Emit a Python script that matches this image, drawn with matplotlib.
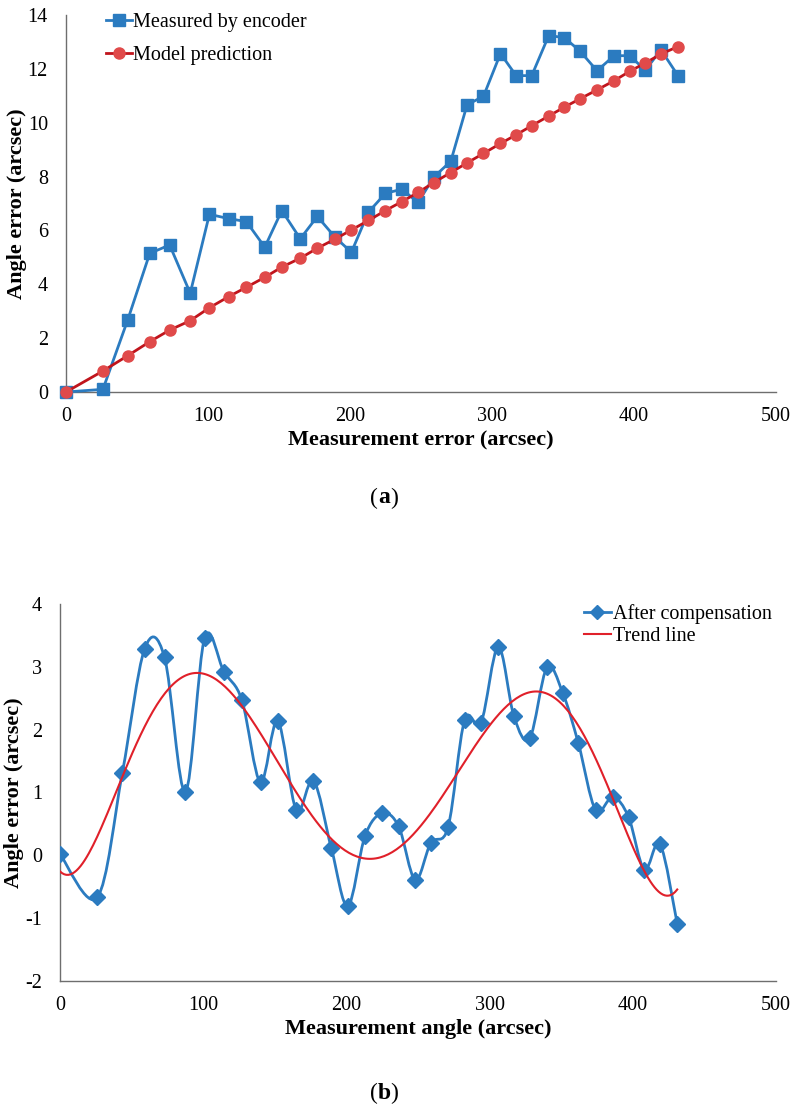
import numpy as np
import matplotlib
matplotlib.use("Agg")
import matplotlib.pyplot as plt
from matplotlib.path import Path
from matplotlib.patches import PathPatch
from matplotlib.lines import Line2D

plt.rcParams['font.family'] = ['Liberation Serif', 'DejaVu Serif']
plt.rcParams['axes.unicode_minus'] = False

# Measurement positions (arcsec), shared by both panels
x_pos = [0, 26, 43.5, 59, 73, 87.5, 101, 114.5, 127, 140, 152, 165, 177, 189.5,
         201, 213, 225, 236.5, 248, 259, 271, 282.5, 294, 306, 317, 328, 340,
         351, 362, 374, 386, 397, 408, 419, 431]

# (a) angle error measured by encoder / model prediction
measured = [0.0, 0.1, 2.68, 5.15, 5.46, 3.67, 6.6, 6.44, 6.33, 5.38, 6.74, 5.69,
            6.52, 5.75, 5.19, 6.68, 7.38, 7.53, 7.04, 7.98, 8.57, 10.67, 10.98,
            12.57, 11.75, 11.75, 13.24, 13.16, 12.66, 11.93, 12.49, 12.49, 11.95,
            12.71, 11.75]
predicted = [0.0, 0.78, 1.35, 1.87, 2.30, 2.65, 3.13, 3.54, 3.89, 4.26, 4.64, 4.97,
             5.34, 5.68, 6.02, 6.37, 6.74, 7.07, 7.41, 7.78, 8.15, 8.51, 8.86,
             9.23, 9.55, 9.89, 10.25, 10.58, 10.89, 11.22, 11.56, 11.91, 12.22,
             12.55, 12.83]

# (b) angle error after compensation
compensated = [0.02, -0.67, 1.31, 3.28, 3.15, 1.01, 3.46, 2.92, 2.47, 1.16, 2.14,
               0.72, 1.19, 0.11, -0.81, 0.31, 0.67, 0.46, -0.39, 0.2, 0.45, 2.15,
               2.11, 3.32, 2.21, 1.86, 2.99, 2.59, 1.78, 0.72, 0.93, 0.61, -0.23,
               0.18, -1.09]

BLUE = "#2b7bc0"
RED_M = "#e04a4a"
RED_L = "#c0141c"
TREND = "#e0202a"
SPINE = "#6e6e6e"
TICK_FS = 14.5
LAB_FS = 16
LEG_FS = 14.5


def style_axes(ax, ylim, yticks):
    ax.set_xlim(0, 500)
    ax.set_ylim(*ylim)
    ax.set_xticks(range(0, 501, 100))
    ax.set_yticks(yticks)
    ax.spines['top'].set_visible(False)
    ax.spines['right'].set_visible(False)
    for s in ('left', 'bottom'):
        ax.spines[s].set_color(SPINE)
        ax.spines[s].set_linewidth(1.0)
    ax.tick_params(length=0, labelsize=TICK_FS)
    ax.tick_params(axis='x', pad=11)
    ax.tick_params(axis='y', pad=13)


def smooth_path(x, y):
    # Excel-style smoothed line: cubic Bezier through every point
    p = np.column_stack([x, y]).astype(float)
    n = len(p)
    verts = [p[0]]
    codes = [Path.MOVETO]
    for i in range(n - 1):
        prev = p[i - 1] if i > 0 else p[i]
        nxt = p[i + 2] if i + 2 < n else p[i + 1]
        c1 = p[i] + (p[i + 1] - prev) / 6.0
        c2 = p[i + 1] - (nxt - p[i]) / 6.0
        verts += [c1, c2, p[i + 1]]
        codes += [Path.CURVE4] * 3
    return Path(verts, codes)


def caption(fig, y, letter):
    fig.text(0.4735, y, "(", ha='right', va='center', fontsize=17)
    fig.text(0.4740, y, letter, ha='left', va='center', fontsize=17, fontweight='bold')
    fig.text(0.4900, y, ")", ha='left', va='center', fontsize=17)


fig = plt.figure(figsize=(7.97, 11.14), dpi=100)

# ---- (a) ----
ax1 = fig.add_axes([0.0828, 0.6481, 0.8908, 0.3384])
style_axes(ax1, (0, 14), range(0, 15, 2))
ax1.plot(x_pos, measured, color=BLUE, lw=2, marker='s', ms=8.5,
         label="Measured by encoder", zorder=3, clip_on=False)
ax1.plot(x_pos, predicted, color=RED_L, lw=2, marker='o', ms=8,
         mfc=RED_M, mec=RED_M, label="Model prediction", zorder=4, clip_on=False)
ax1.set_xlabel("Measurement error (arcsec)", fontsize=LAB_FS, fontweight='bold', labelpad=3)
ax1.set_ylabel("Angle error (arcsec)", fontsize=LAB_FS, fontweight='bold', labelpad=0.5)
ax1.legend(loc='upper left', bbox_to_anchor=(0.045, 1.026), frameon=False,
           fontsize=LEG_FS, handlelength=1.3, handletextpad=0.05,
           labelspacing=0.65, borderaxespad=0)

caption(fig, 0.553, "a")

# ---- (b) ----
ax2 = fig.add_axes([0.0753, 0.1194, 0.8984, 0.3384])
style_axes(ax2, (-2, 4), range(-2, 5))
ax2.add_patch(PathPatch(smooth_path(x_pos, compensated), fill=False,
                        edgecolor=BLUE, lw=2, zorder=3))
ax2.plot(x_pos, compensated, ls='none', marker='D', ms=8, color=BLUE, zorder=4)
coef = np.polyfit(x_pos, compensated, 6)
xt = np.linspace(0, x_pos[-1], 300)
ax2.plot(xt, np.polyval(coef, xt), color=TREND, lw=1.5, zorder=5)
ax2.set_xlabel("Measurement angle (arcsec)", fontsize=LAB_FS, fontweight='bold', labelpad=3)
ax2.set_ylabel("Angle error (arcsec)", fontsize=LAB_FS, fontweight='bold', labelpad=0.5)
handles = [Line2D([], [], color=BLUE, lw=2, marker='D', ms=7),
           Line2D([], [], color=TREND, lw=1.5)]
ax2.legend(handles, ["After compensation", "Trend line"], loc='upper left',
           bbox_to_anchor=(0.721, 1.022), frameon=False, fontsize=LEG_FS,
           handlelength=1.3, handletextpad=0.1, labelspacing=0.15, borderaxespad=0)

caption(fig, 0.018, "b")

fig.savefig("out.png", dpi=100)
